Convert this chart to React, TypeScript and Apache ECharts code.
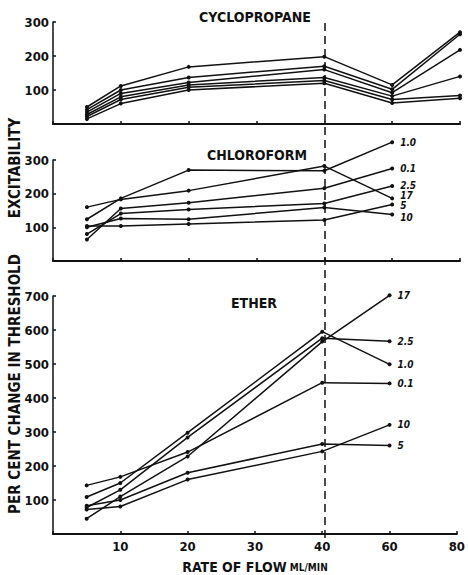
import React, { useEffect, useRef } from "react";
import * as echarts from "echarts";

// ---- data ----
const flowRates = [5, 10, 20, 40, 60, 80];
const flowRatesShort = [5, 10, 20, 40, 60];
const xTickLabels = ["", "10", "20", "30", "40", "60", "80"];

// Cyclopropane (unlabelled curves)
const cycloA = [50, 112, 168, 198, 115, 270];
const cycloB = [42, 100, 137, 170, 102, 264];
const cycloC = [35, 90, 122, 160, 92, 218];
const cycloD = [28, 80, 115, 137, 82, 140];
const cycloE = [22, 72, 108, 128, 72, 84];
const cycloF = [15, 60, 100, 120, 62, 76];

// Chloroform
const chloroLabels = ["1.0", "17", "0.1", "2.5", "10", "5"];
const chloro_1_0 = [124, 186, 270, 268, 353];
const chloro_17 = [160, 183, 209, 282, 186];
const chloro_0_1 = [64, 156, 173, 216, 275];
const chloro_2_5 = [80, 141, 153, 171, 223];
const chloro_10 = [100, 126, 124, 159, 138];
const chloro_5 = [104, 104, 110, 122, 168];

// Ether
const etherLabels = ["17", "2.5", "1.0", "0.1", "10", "5"];
const ether_17 = [45, 110, 228, 566, 702];
const ether_2_5 = [78, 130, 284, 576, 567];
const ether_1_0 = [109, 150, 298, 595, 499];
const ether_0_1 = [143, 168, 241, 445, 443];
const ether_10 = [72, 81, 160, 243, 321];
const ether_5 = [83, 100, 180, 265, 260];

const FONT = "'DejaVu Sans Condensed', 'DejaVu Sans', sans-serif";
const INK = "#111";

// piecewise flow scale: 0-40 ten per unit, 40-80 twenty per unit
const toT = (v: number) => (v <= 40 ? v / 10 : 4 + (v - 40) / 20);

// small vertical nudges of crowded end labels (chloroform)
const chloroLabelNudge: Record<string, number> = { "17": -3, "5": 1, "10": 3 };

export default function App() {
  const ref = useRef<HTMLDivElement>(null);
  useEffect(() => {
    if (!ref.current) return;
    const chart = echarts.init(ref.current, undefined, { renderer: "svg" });

    const grids = [
      { left: 53, right: 8, top: 22, height: 102 },
      { left: 53, right: 8, top: 160, height: 101 },
      { left: 53, right: 8, top: 296, height: 242 },
      { left: 53, right: 8, top: 22, height: 516 },
    ];

    const xAxis = [0, 1, 2, 3].map((i) => ({
      type: "value",
      gridIndex: i,
      min: 0,
      max: 6,
      interval: 1,
      show: i !== 3,
      axisLine: { show: true, lineStyle: { color: INK, width: 2 } },
      axisTick: { show: true, inside: true, length: 3, lineStyle: { color: INK, width: 1.5 } },
      splitLine: { show: false },
      axisLabel: {
        show: i === 2,
        formatter: (v: number) => xTickLabels[Math.round(v)] ?? "",
        color: INK,
        fontFamily: FONT,
        fontWeight: "bold",
        fontSize: 13,
        margin: 6,
      },
      name: i === 2 ? "{a|RATE OF FLOW} {b|ML/MIN}" : "",
      nameLocation: "middle",
      nameGap: 26,
      nameTextStyle: {
        rich: {
          a: { fontFamily: FONT, fontWeight: "bold", fontSize: 14, color: INK },
          b: { fontFamily: FONT, fontWeight: "bold", fontSize: 10, color: INK },
        },
      },
    }));

    const yMax = [300, 300, 700, 1];
    const yAxis = [0, 1, 2, 3].map((i) => ({
      type: "value",
      gridIndex: i,
      min: 0,
      max: yMax[i],
      interval: i === 3 ? 1 : 100,
      show: i !== 3,
      axisLine: { show: true, lineStyle: { color: INK, width: 1.5 } },
      axisTick: { show: true, inside: true, length: 3, lineStyle: { color: INK, width: 1.5 } },
      splitLine: { show: false },
      axisLabel: {
        formatter: (v: number) => (v === 0 ? "" : String(v)),
        color: INK,
        fontFamily: FONT,
        fontWeight: "bold",
        fontSize: 13,
        margin: 4,
      },
    }));

    const lineSeries = (
      name: string,
      xs: number[],
      ys: number[],
      idx: number,
      label: boolean,
      nudge = 0
    ) => ({
      type: "line",
      name,
      xAxisIndex: idx,
      yAxisIndex: idx,
      clip: false,
      data: ys.map((y, k) => [toT(xs[k]), y]),
      symbol: "circle",
      symbolSize: 4,
      itemStyle: { color: INK },
      lineStyle: { color: INK, width: 1.5 },
      endLabel: label
        ? {
            show: true,
            formatter: name,
            distance: 8,
            offset: [0, nudge],
            color: INK,
            fontFamily: FONT,
            fontWeight: "bold",
            fontStyle: "italic",
            fontSize: 10,
          }
        : { show: false },
    });

    const cyclo = [cycloA, cycloB, cycloC, cycloD, cycloE, cycloF];
    const chloro = [chloro_1_0, chloro_17, chloro_0_1, chloro_2_5, chloro_10, chloro_5];
    const ether = [ether_17, ether_2_5, ether_1_0, ether_0_1, ether_10, ether_5];

    const series: any[] = [
      ...cyclo.map((d, k) => lineSeries("c" + k, flowRates, d, 0, false)),
      ...chloro.map((d, k) =>
        lineSeries(chloroLabels[k], flowRatesShort, d, 1, true, chloroLabelNudge[chloroLabels[k]] ?? 0)
      ),
      ...ether.map((d, k) => lineSeries(etherLabels[k], flowRatesShort, d, 2, true)),
      {
        type: "line",
        xAxisIndex: 3,
        yAxisIndex: 3,
        data: [[toT(40), 0]],
        symbol: "none",
        lineStyle: { opacity: 0 },
        markLine: {
          silent: true,
          symbol: "none",
          label: { show: false },
          lineStyle: { color: INK, width: 1.5, type: [8, 5] },
          data: [{ xAxis: toT(40) }],
        },
      },
    ];

    const titleText = (text: string, x: number, y: number) => ({
      type: "text",
      x,
      y,
      style: {
        text,
        fill: INK,
        font: `bold 14px ${FONT}`,
        textAlign: "center",
        textVerticalAlign: "middle",
      },
    });

    const vertText = (text: string, y: number) => ({
      type: "text",
      x: 15,
      y,
      rotation: Math.PI / 2,
      style: {
        text,
        fill: INK,
        font: `bold 15px ${FONT}`,
        textAlign: "center",
        textVerticalAlign: "middle",
      },
    });

    chart.setOption({
      animation: false,
      backgroundColor: "#fff",
      grid: grids,
      xAxis,
      yAxis,
      series,
      graphic: [
        titleText("CYCLOPROPANE", 255, 17),
        titleText("CHLOROFORM", 257, 155),
        titleText("ETHER", 254, 303),
        vertText("EXCITABILITY", 168),
        vertText("PER CENT CHANGE IN THRESHOLD", 384),
      ],
    });
    return () => chart.dispose();
  }, []);
  return (
    <div
      ref={ref}
      style={{ position: "absolute", left: 0, top: 0, width: 468, height: 575 }}
    />
  );
}
